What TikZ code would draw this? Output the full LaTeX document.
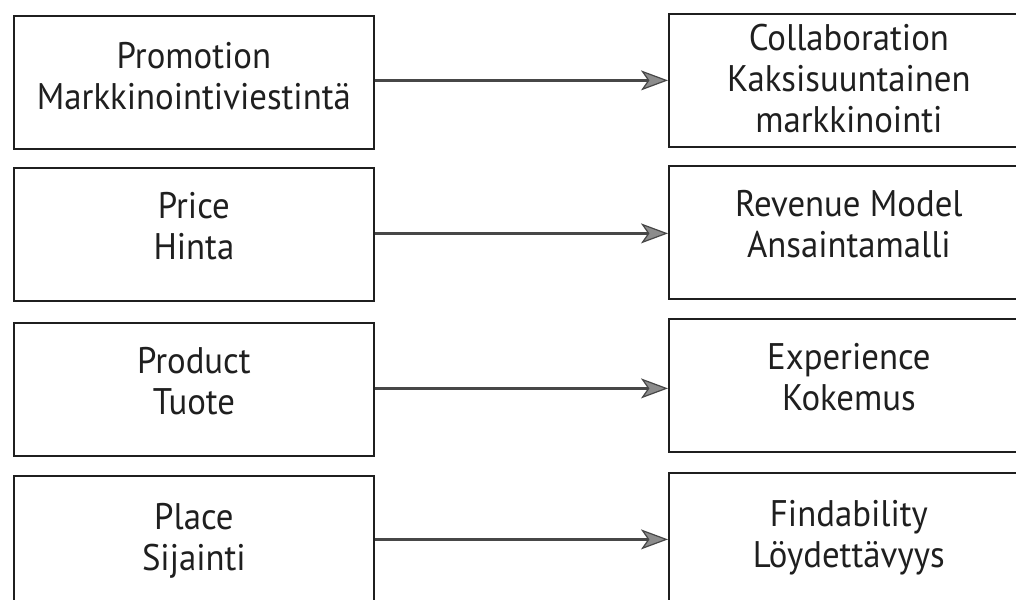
\documentclass[tikz,border=0pt]{standalone}
\usepackage{fontspec}
\setmainfont{PT Sans}[FakeStretch=0.94]
\usetikzlibrary{arrows.meta}
\begin{document}
\begin{tikzpicture}[x=1pt,y=-1pt,
 box/.style={draw=black!88, line width=1.8pt, minimum width=360pt, minimum height=133pt, inner sep=0pt, anchor=north west, fill=white},
 lbl/.style={font=\fontsize{37}{41}\selectfont, align=center, text=black!88, inner sep=0pt},
 arr/.style={line width=2.8pt, draw=black!72, -{Stealth[length=27pt,width=20pt,inset=7pt,fill=black!45,line width=1.2pt]}}
]
\useasboundingbox (0,0) rectangle (1016,599);
\fill[white] (0,0) rectangle (1016,599);
\clip (0,0) rectangle (1016,599);
% left boxes
\node[box] (L1) at (13,15) {};
\node[box] (L2) at (13,167) {};
\node[box] (L3) at (13,322) {};
\node[box] (L4) at (13,475) {};
% right boxes
\node[box] (R1) at (668,13) {};
\node[box] (R2) at (668,165) {};
\node[box] (R3) at (668,318) {};
\node[box] (R4) at (668,472) {};
% labels
\node[lbl] (tL1) at ([yshift=6pt]L1.center) {Promotion\\Markkinointiviestintä};
\node[lbl] (tL2) at ([yshift=8pt]L2.center) {Price\\Hinta};
\node[lbl] (tL3) at ([yshift=8pt]L3.center) {Product\\Tuote};
\node[lbl] (tL4) at ([yshift=2pt]L4.center) {Place\\Sijainti};
\node[lbl] (tR1) at ([yshift=2pt]R1.center) {Collaboration\\Kaksisuuntainen\\markkinointi};
\node[lbl] (tR2) at ([yshift=8pt]R2.center) {Revenue Model\\Ansaintamalli};
\node[lbl] (tR3) at ([yshift=8pt]R3.center) {Experience\\Kokemus};
\node[lbl] (tR4) at ([yshift=2pt]R4.center) {Findability\\Löydettävyys};
% arrows
\draw[arr] ([yshift=2pt]L1.east) -- ([yshift=2pt]L1.east -| R1.west);
\draw[arr] ([yshift=1pt]L2.east) -- ([yshift=1pt]L2.east -| R2.west);
\draw[arr] ([yshift=1pt]L3.east) -- ([yshift=1pt]L3.east -| R3.west);
\draw[arr] ([yshift=3pt]L4.east) -- ([yshift=3pt]L4.east -| R4.west);
\end{tikzpicture}
\end{document}
